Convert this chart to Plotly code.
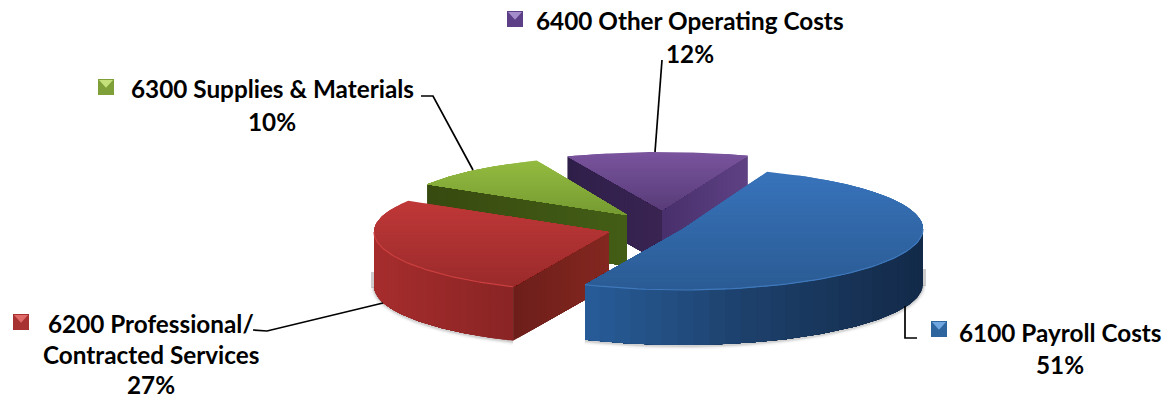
import math
import plotly.graph_objects as go

# Budget shares by expense category
CODES = ["6100 Payroll Costs", "6200 Professional/ Contracted Services",
         "6300 Supplies & Materials", "6400 Other Operating Costs"]
SHARES = [51, 27, 10, 12]
LABEL_LINES = [["6100 Payroll Costs", "51%"],
               ["6200 Professional/", "Contracted Services", "27%"],
               ["6300 Supplies & Materials", "10%"],
               ["6400 Other Operating Costs", "12%"]]

W, H = 1165, 399
FIRST_ANGLE = -69.5

# Tilted-disc geometry of each exploded slice: apex x, apex y, rx, ry, wall depth
SLICE_GEOM = [(683, 229, 240, 61, 55), (609, 232, 235, 60, 54),
              (627, 215, 234, 59, 51), (662, 210, 245, 58, 53)]

# top colours (back, front), outer wall (left, right), cut wall colours per edge
STYLE = [
    dict(top=("#3873bb", "#2a5b93"), arc=("#285e9b", "#1d406b", "#132a49"), rim="#3f78bb",
         start=("#000000", "#000000"), end=("#000000", "#000000")),
    dict(top=("#c03838", "#9a2a2b"), arc=("#a72d2d", "#8a2425"), rim="#cb4140",
         start=("#6d1e1a", "#842720"), end=("#000000", "#000000")),
    dict(top=("#93bb40", "#769b32"), arc=("#3a4f13", "#3a4f13"), rim="#93bb40",
         start=("#37490f", "#435e16"), end=("#000000", "#000000")),
    dict(top=("#7a549e", "#583c78"), arc=("#2f1f4a", "#2f1f4a"), rim="#7a549e",
         start=("#2e1f49", "#3a2452"), end=("#5f4183", "#48306c")),
]

# Label text positions as (centre x, centre y) per line, key swatch and leader paths
LABEL_POS = [[(1060, 332), (1060, 364)],
             [(151, 323), (151, 354), (151, 384)],
             [(272, 88), (272, 121)],
             [(690, 20), (690, 53)]]
SWATCH_POS = [(931, 321), (13, 314), (98, 79), (507, 11)]
SWATCH_SIZE = 16
SWATCH_COL = [("#2f659f", "#6fa6e0"), ("#a83232", "#e06a68"), ("#7f9f38", "#c4e07a"), ("#5c3f86", "#a48ccb")]
LEADERS = [[(905, 306), (905, 338), (917, 338)],
           [(253, 330), (267, 331), (383, 303)],
           [(421, 96), (433, 96), (473, 170)],
           [(662, 60), (655, 152)]]
FONT = "Lato, Carlito, sans-serif"
FONT_SIZE = 24.3


def rgb(h):
    return tuple(int(h[i:i + 2], 16) for i in (1, 3, 5))


def mix(stops, f):
    f = max(0.0, min(1.0, f)) * (len(stops) - 1)
    i = min(int(f), len(stops) - 2)
    a, b = rgb(stops[i]), rgb(stops[i + 1])
    t = f - i
    return "rgb(%d,%d,%d)" % tuple(round(a[k] + (b[k] - a[k]) * t) for k in range(3))


def clip_below(poly, y0):
    """Keep the part of a polygon at or below the horizontal line y0."""
    out = []
    for i, p in enumerate(poly):
        q = poly[(i + 1) % len(poly)]
        if p[1] >= y0:
            out.append(p)
        if (p[1] >= y0) != (q[1] >= y0):
            t = (y0 - p[1]) / (q[1] - p[1])
            out.append((p[0] + (q[0] - p[0]) * t, y0))
    return out


fig = go.Figure()


def fill(pts, color):
    xs = [p[0] for p in pts] + [pts[0][0]]
    ys = [p[1] for p in pts] + [pts[0][1]]
    fig.add_trace(go.Scatter(x=xs, y=ys, mode="lines", fill="toself", fillcolor=color,
                             line=dict(color=color, width=0), hoverinfo="skip"))


def stroke(pts, color, width):
    fig.add_trace(go.Scatter(x=[p[0] for p in pts], y=[p[1] for p in pts], mode="lines",
                             line=dict(color=color, width=width), hoverinfo="skip"))


# Slice spans in degrees, derived from the shares
spans = []
a = FIRST_ANGLE
for s in SHARES:
    spans.append((a, a + s * 3.6))
    a += s * 3.6


def on_rim(geom, deg):
    cx, cy, rx, ry, _ = geom
    return cx + rx * math.cos(math.radians(deg)), cy + ry * math.sin(math.radians(deg))


def draw_cut_wall(geom, deg, cols):
    # Each step overpaints the remainder of the wall, so no seams show between steps
    cx, cy, _, _, depth = geom
    ex, ey = on_rim(geom, deg)
    n = 20
    for i in range(n):
        t0 = i / n
        p0 = (ex + (cx - ex) * t0, ey + (cy - ey) * t0)
        fill([p0, (cx, cy), (cx, cy + depth), (p0[0], p0[1] + depth)], mix(cols, t0 + 0.5 / n))


# Painter's order: back slices first, payroll last
for idx in [3, 2, 1, 0]:
    g, st, (a0, a1) = SLICE_GEOM[idx], STYLE[idx], spans[idx]
    cx, cy, rx, ry, depth = g

    # Soft contact shadow under the visible outer wall
    v0, v1 = max(a0, 0), min(a1, 180)
    if v1 > v0:
        base = [on_rim(g, v0 + (v1 - v0) * k / 60) for k in range(61)]
        base = [(x, y + depth + 1) for x, y in base]
        for w, alpha in ((7, 0.05), (4, 0.09), (2, 0.12)):
            stroke(base, "rgba(70,70,70,%.2f)" % alpha, w)
        if v1 >= 180:
            stroke([(cx - rx - 1, cy + 40), (cx - rx - 1, cy + depth + 2)], "rgba(90,90,90,0.30)", 4)
        if v0 <= 0:
            stroke([(cx + rx + 1, cy + 40), (cx + rx + 1, cy + depth + 2)], "rgba(90,90,90,0.30)", 4)

    # Cut faces turned toward the viewer
    if math.sin(math.radians(a0 - 90)) > 0:
        draw_cut_wall(g, a0, st["start"])
    if math.sin(math.radians(a1 + 90)) > 0:
        draw_cut_wall(g, a1, st["end"])

    # Outer wall, shaded along x; steps run from the far end so each overlaps the last
    if v1 > v0:
        n = 90
        rim = [on_rim(g, v0 + (v1 - v0) * k / n) for k in range(n + 1)]
        xmin, xmax = min(p[0] for p in rim), max(p[0] for p in rim)
        for k in range(0, n, 3):
            part = rim[k:]
            f = (rim[k][0] - xmin) / (xmax - xmin)
            fill(part + [(x, y + depth) for x, y in reversed(part)], mix(st["arc"], f))

    # Top face, shaded back to front; each step overpaints everything in front of it
    poly = [(cx, cy)] + [on_rim(g, a0 + (a1 - a0) * k / 90) for k in range(91)]
    ymin, ymax = min(p[1] for p in poly), max(p[1] for p in poly)
    bands = 30
    for b in range(bands):
        piece = clip_below(poly, ymin + (ymax - ymin) * b / bands)
        if len(piece) >= 3:
            fill(piece, mix(st["top"], (b + 0.5) / bands))

    # Bevel highlight along the front of the rim
    if v1 > v0:
        stroke([on_rim(g, v0 + (v1 - v0) * k / 60) for k in range(61)], st["rim"], 1.2)

# Leader lines
for path in LEADERS:
    stroke(path, "#000000", 1.7)

# Key swatches with a bevelled upper facet
for (x, y), (body, facet) in zip(SWATCH_POS, SWATCH_COL):
    s = SWATCH_SIZE
    fill([(x, y), (x + s, y), (x + s, y + s), (x, y + s)], body)
    fill([(x + 1, y + 1), (x + s - 1, y + 1), (x + s / 2, y + s * 0.55)], facet)

annotations = []
for lines, spots in zip(LABEL_LINES, LABEL_POS):
    for text, (x, y) in zip(lines, spots):
        annotations.append(dict(x=x, y=y, xref="x", yref="y", text="<b>%s</b>" % text,
                                showarrow=False, xanchor="center", yanchor="middle",
                                font=dict(family=FONT, size=FONT_SIZE, color="#000000")))

fig.update_layout(
    width=W, height=H, margin=dict(l=0, r=0, t=0, b=0), showlegend=False,
    paper_bgcolor="#ffffff", plot_bgcolor="#ffffff", annotations=annotations,
    xaxis=dict(range=[0, W], visible=False, fixedrange=True),
    yaxis=dict(range=[H, 0], visible=False, fixedrange=True),
)
fig.write_html("out.html", config=dict(displayModeBar=False))
